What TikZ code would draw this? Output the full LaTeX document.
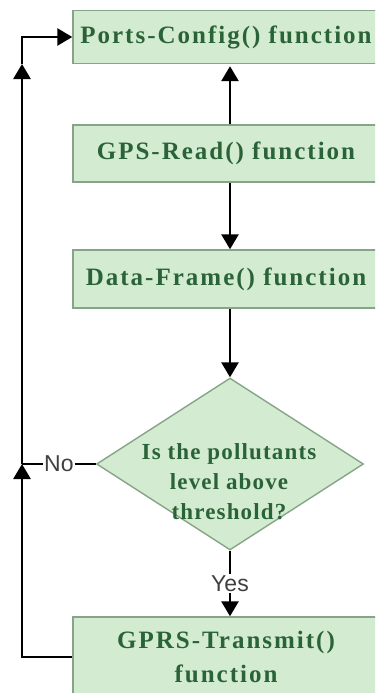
\documentclass[tikz,border=0pt]{standalone}
\usepackage{fontspec}
\setmainfont{Liberation Serif}
\newfontfamily\boxfont{Liberation Serif}[LetterSpace=8]
\newfontfamily\qfont{Liberation Serif}[LetterSpace=5]
\newfontfamily\lblfont{Liberation Sans}
\usetikzlibrary{shapes.geometric,arrows.meta}
\definecolor{boxfill}{HTML}{D3ECD1}
\definecolor{boxline}{HTML}{86A486}
\definecolor{boxtext}{HTML}{2B6338}
\tikzset{
	func/.style={draw=boxline, line width=1.4pt, fill=boxfill, minimum width=306pt, inner sep=0pt,
		font=\boxfont\bfseries\fontsize{25}{34}\selectfont, text=boxtext, align=center},
	decision/.style={draw=boxline, line width=1.4pt, fill=boxfill, diamond, inner sep=0pt,
		minimum width=267pt, minimum height=172pt},
	qtext/.style={font=\qfont\bfseries\fontsize{23}{30}\selectfont, text=boxtext, align=center},
	arr/.style={-{Triangle[length=15pt,width=17pt]}, line width=2.8pt},
	lbl/.style={font=\lblfont\fontsize{23}{25}\selectfont, text=black!75, fill=white, inner sep=1pt}
}
\begin{document}
\begin{tikzpicture}[x=1pt, y=-1pt]
	
	\useasboundingbox (0,0) rectangle (375,693);
	\clip (0,0) rectangle (375,693);
	
	% Boxes
	\node[func, minimum height=53pt] (cfg) at (226, 37) {Ports-Config() function};
	\node[func, minimum height=57pt] (gps) at (226, 153.5) {GPS-Read() function};
	\node[func, minimum height=58pt] (frm) at (226, 279) {Data-Frame() function};
	\node[decision] (q) at (230, 464) {};
	\node[qtext] (qt) at (229, 482) {Is the pollutants\\level above\\threshold?};
	\node[func, minimum height=80pt] (tx) at (226, 657) {GPRS-Transmit()\\function};
	
	% Loop points
	\coordinate (lpa) at (22, 657);
	\coordinate (lpb) at (22, 464);
	\coordinate (lpc) at (22, 64);
	
	% Arrows
	\draw[arr] ([xshift=4pt]gps.north) -- ([xshift=4pt,yshift=-2pt]cfg.south);
	\draw[arr] ([xshift=4pt]gps.south) -- ([xshift=4pt]frm.north);
	\draw[arr] ([xshift=4pt]frm.south) -- (q.north);
	\draw[arr] (q.south) -- node[lbl] {Yes} ([xshift=4pt]tx.north);
	\draw[line width=2.2pt] (q.west) -- node[lbl] {No} (lpb);
	\draw[arr] (tx.west) -- (lpa) -- (lpb);
	\draw[arr] (lpb) -- (lpc);
	\draw[arr] (lpc) |- (cfg.west);
	
\end{tikzpicture}
\end{document}
